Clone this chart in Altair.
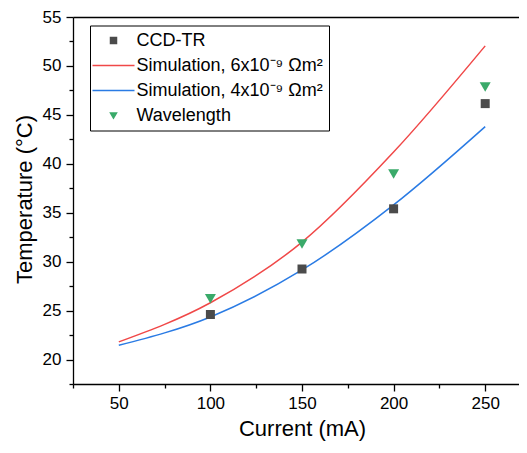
import altair as alt
import pandas as pd

# ---- data ----
current_pts = [100, 150, 200, 250]
ccd_tr = [24.6, 29.25, 35.4, 46.15]
wavelength = [26.2, 31.8, 38.95, 47.85]

sim_current = [50, 100, 150, 200, 250]
sim_6e9 = [21.8, 25.8, 32.0, 41.2, 52.05]
sim_4e9 = [21.45, 24.35, 29.15, 35.8, 43.8]

S_CCD = "CCD-TR"
S6 = "Simulation, 6x10\u207b\u2079 \u03a9m\u00b2"
S4 = "Simulation, 4x10\u207b\u2079 \u03a9m\u00b2"
S_WL = "Wavelength"
series_order = [S_CCD, S6, S4, S_WL]
series_colors = ["#4b4b4b", "#f04848", "#2a7be4", "#3aaa6a"]
line_path = "M-7,0H7"
series_shapes = ["square", line_path, line_path, "triangle-down"]

rows = []
for x, y in zip(current_pts, ccd_tr):
    rows.append({"x": x, "y": y, "series": S_CCD})
for x, y in zip(current_pts, wavelength):
    rows.append({"x": x, "y": y, "series": S_WL})
for x, y in zip(sim_current, sim_6e9):
    rows.append({"x": x, "y": y, "series": S6})
for x, y in zip(sim_current, sim_4e9):
    rows.append({"x": x, "y": y, "series": S4})
df = pd.DataFrame(rows)

FONT = "Liberation Sans"
W, H = 446, 367
x_scale = alt.Scale(domain=[25, 25 + W / 1.832], nice=False, zero=False)
y_scale = alt.Scale(domain=[17.5, 55], nice=False, zero=False)

x_enc = alt.X(
    "x:Q", scale=x_scale,
    axis=alt.Axis(
        title="Current (mA)",
        values=[25, 50, 75, 100, 125, 150, 175, 200, 225, 250],
        labelExpr="datum.value % 50 == 0 ? datum.label : ''",
        tickSize={"condition": {"test": "datum.value % 50 == 0", "value": 7}, "value": 4},
        titleX=229, titleY=51, titleBaseline="alphabetic", titleAlign="center",
        labelPadding=4,
    ),
)
y_enc = alt.Y(
    "y:Q", scale=y_scale,
    axis=alt.Axis(
        title="Temperature (\u00b0C)",
        values=[17.5 + 2.5 * i for i in range(16)],
        labelExpr="datum.value % 5 == 0 ? datum.label : ''",
        tickSize={"condition": {"test": "datum.value % 5 == 0", "value": 7}, "value": 4},
        titleX=-41.5, titleY=182, titleBaseline="alphabetic", titleAlign="center",
        labelPadding=5,
    ),
)
x_plain = alt.X("x:Q", scale=x_scale, axis=None)

line6 = alt.Chart(df).transform_filter(alt.datum.series == S6).mark_line(
    strokeWidth=1.5, interpolate="monotone", clip=True, color=series_colors[1]
).encode(x=x_plain, y=y_enc)
line4 = alt.Chart(df).transform_filter(alt.datum.series == S4).mark_line(
    strokeWidth=1.5, interpolate="monotone", clip=True, color=series_colors[2]
).encode(x=x_plain, y=y_enc)

# top frame line (top x axis: domain only)
frame_top = alt.Chart(df).transform_filter(alt.datum.series == S6).mark_point(opacity=0).encode(
    x=alt.X("x:Q", scale=x_scale, axis=alt.Axis(orient="top", labels=False, ticks=False,
                                                 title=None, domain=True, grid=False)),
    y=y_enc,
)

color_scale = alt.Scale(domain=series_order, range=series_colors)
shape_scale = alt.Scale(domain=series_order, range=series_shapes)

legend = alt.Legend(
    title=None, orient="none", legendX=17, legendY=8.5,
    strokeColor="#000", fillColor="#ffffff", padding=6,
    labelFont=FONT, labelFontSize=18, labelColor="#000", labelLimit=400,
    symbolOffset=8.5, labelOffset=14, rowPadding=7, symbolSize=36,
    symbolStrokeWidth=1.5,
)

points = alt.Chart(df).transform_filter(
    alt.FieldOneOfPredicate(field="series", oneOf=[S_CCD, S_WL])
).mark_point(filled=True, opacity=1, strokeWidth=0).encode(
    x=x_enc, y=y_enc,
    fill=alt.Fill("series:N", scale=color_scale, legend=legend),
    stroke=alt.Stroke("series:N", scale=color_scale, legend=legend),
    shape=alt.Shape("series:N", scale=shape_scale, legend=legend),
    size=alt.condition(alt.datum.series == S_CCD, alt.value(81), alt.value(121)),
)

chart = alt.layer(line6, line4, frame_top, points).resolve_axis(x="independent").properties(
    width=W, height=H,
    autosize=alt.AutoSizeParams(type="none"),
    padding={"left": 65, "top": 9, "right": 0, "bottom": 57},
).configure_view(
    stroke=None,
).configure_axis(
    grid=False, domainColor="#000", domainWidth=1.3, tickColor="#000", tickWidth=1.3,
    labelFont=FONT, labelFontSize=17, labelColor="#000",
    titleFont=FONT, titleFontSize=22, titleFontWeight="normal", titleColor="#000",
)

chart.save("out.html", embed_options={"renderer": "svg", "actions": False})
